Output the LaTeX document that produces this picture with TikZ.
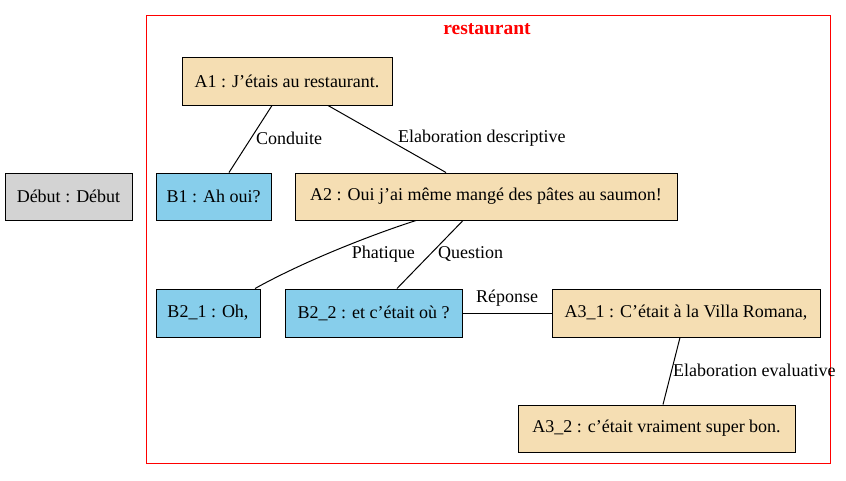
\documentclass[tikz,border=0pt]{standalone}
\usepackage{fontspec}
\setmainfont{Liberation Serif}
\definecolor{wheat}{HTML}{F5DEB3}
\definecolor{sky}{HTML}{87CEEB}
\definecolor{lgray}{HTML}{D3D3D3}
\newcommand{\gvfont}{\fontsize{18}{21}\selectfont}
\begin{document}
\begin{tikzpicture}[x=1pt,y=-1pt]
\tikzset{
  box/.style={draw=black, line width=1pt, inner sep=0pt, anchor=center, font=\gvfont},
  abox/.style={box, fill=wheat},
  bbox/.style={box, fill=sky},
  gbox/.style={box, fill=lgray},
  edge/.style={draw=black, line width=1pt},
  lab/.style={inner sep=0pt, font=\gvfont}}
\useasboundingbox (0,0) rectangle (846,480);
\fill[white] (0,0) rectangle (846,480);
% cluster
\draw[red, line width=1pt] (146,15) rectangle (830,463);
\node[lab, text=red, font=\fontsize{19.5}{22}\selectfont\bfseries] (title) at (487,29) {restaurant};
% nodes
\node[gbox, minimum width=127pt, minimum height=47pt] (debut) at (68.5,196.5) {Début : Début};
\node[abox, minimum width=210pt, minimum height=48pt] (A1) at (287,81) {A1 : J’étais au restaurant.};
\node[bbox, minimum width=115pt, minimum height=47pt] (B1) at (213.5,196.5) {B1 : Ah oui?};
\node[abox, minimum width=382pt, minimum height=47pt] (A2) at (486,196.5) {A2 : Oui j’ai même mangé des pâtes au saumon!};
\node[bbox, minimum width=104pt, minimum height=48pt] (B21) at (208,313) {B2\_1 : Oh,};
\node[bbox, minimum width=177pt, minimum height=48pt] (B22) at (373.5,313) {B2\_2 : et c’était où ?};
\node[abox, minimum width=268pt, minimum height=48pt] (A31) at (686,313) {A3\_1 : C’était à la Villa Romana,};
\node[abox, minimum width=277pt, minimum height=47pt] (A32) at (656.5,428.5) {A3\_2 : c’était vraiment super bon.};
% edges
\draw[edge] (A1.south -| 272,0) -- (B1.north -| 229,0);
\node[lab, anchor=west] (l1) at (256,138) {Conduite};
\draw[edge] (A1.south -| 328,0) -- (A2.north -| 446,0);
\node[lab, anchor=west] (l2) at (398,138) {Elaboration descriptive};
\draw[edge] (A2.south -| 416,0) .. controls (380,232) and (310,258) .. (B21.north -| 255,0);
\node[lab, anchor=east] (l3) at (415,254) {Phatique};
\draw[edge] (A2.south -| 463,0) -- (B22.north -| 397,0);
\node[lab, anchor=west] (l4) at (438,254) {Question};
\draw[edge] (B22.east) -- (A31.west);
\node[lab] (l5) at (507,298) {Réponse};
\draw[edge] (A31.south -| 680,0) -- (A32.north -| 663,0);
\node[lab, anchor=west] (l6) at (673,370) {Elaboration evaluative};
\end{tikzpicture}
\end{document}
